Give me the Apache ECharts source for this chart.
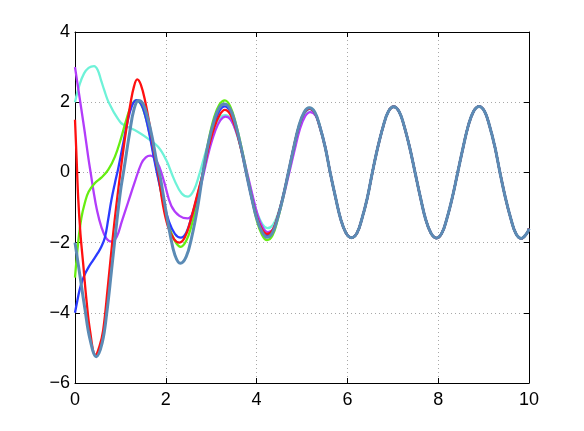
<!DOCTYPE html>
<html>
<head>
<meta charset="utf-8">
<script src="https://cdn.jsdelivr.net/npm/echarts@6/dist/echarts.min.js"></script>
<style>
  html, body { margin: 0; padding: 0; background: #fff; }
  #chart { width: 584px; height: 431px; }
</style>
</head>
<body>
<div id="chart"></div>
<script>
// values, [t, y]
const cyan = [[0, 2.0], [0.1, 2.5], [0.2, 2.82], [0.3, 2.98], [0.42, 3.03], [0.5, 2.92], [0.58, 2.6], [0.65, 2.32],
  [0.72, 2.06], [0.8, 1.85], [0.87, 1.68], [0.95, 1.52], [1.02, 1.4], [1.16, 1.3], [1.38, 1.16], [1.6, 0.97],
  [1.83, 0.73], [2.01, 0.35], [2.19, -0.22], [2.35, -0.6], [2.49, -0.69], [2.62, -0.5], [2.74, -0.05], [2.86, 0.5],
  [2.98, 1.0], [3.1, 1.38], [3.2, 1.57], [3.31, 1.63], [3.43, 1.52], [3.55, 1.15], [3.67, 0.6], [3.78, 0],
  [3.9, -0.65], [4.01, -1.15], [4.13, -1.48], [4.24, -1.59], [4.36, -1.5], [4.47, -1.18], [4.59, -0.62], [4.71, 0],
  [4.83, 0.68], [4.94, 1.26], [5.06, 1.66], [5.17, 1.8], [5.29, 1.68], [5.4, 1.3], [5.52, 0.7]];

const purple = [[0, 3.0], [0.07, 2.4], [0.14, 1.8], [0.22, 1.1], [0.29, 0.45], [0.35, -0.05], [0.41, -0.55],
  [0.48, -1.05], [0.58, -1.55], [0.69, -1.88], [0.8, -1.97], [0.92, -1.83], [1.03, -1.4], [1.17, -0.85],
  [1.31, -0.3], [1.46, 0.25], [1.56, 0.43], [1.66, 0.48], [1.76, 0.4], [1.86, 0.15], [1.97, -0.3], [2.12, -0.95],
  [2.3, -1.24], [2.48, -1.31], [2.6, -1.15], [2.72, -0.65], [2.84, 0], [2.96, 0.65], [3.08, 1.15], [3.2, 1.48],
  [3.32, 1.59], [3.44, 1.48], [3.56, 1.12], [3.68, 0.6], [3.79, 0], [3.91, -0.65], [4.02, -1.2], [4.14, -1.58],
  [4.25, -1.7], [4.37, -1.6], [4.48, -1.22], [4.6, -0.65], [4.72, 0], [4.84, 0.65], [4.95, 1.22], [5.07, 1.6],
  [5.18, 1.72], [5.3, 1.62], [5.41, 1.25], [5.52, 0.68]];

const green = [[0, -3.0], [0.07, -2.0], [0.14, -1.3], [0.22, -0.85], [0.3, -0.55], [0.44, -0.3], [0.58, -0.15],
  [0.73, 0.07], [0.88, 0.45], [1.02, 1.0], [1.13, 1.5], [1.24, 1.9], [1.35, 2.05], [1.45, 1.95], [1.55, 1.6],
  [1.65, 1.05], [1.75, 0.4], [1.85, -0.25], [1.95, -0.9], [2.05, -1.45], [2.2, -1.95], [2.33, -2.12], [2.45, -1.95],
  [2.57, -1.5], [2.7, -0.8], [2.82, 0], [2.94, 0.9], [3.06, 1.55], [3.18, 1.93], [3.3, 2.05], [3.42, 1.88],
  [3.54, 1.4], [3.66, 0.75], [3.78, 0], [3.9, -0.78], [4.0, -1.35], [4.12, -1.78], [4.23, -1.93], [4.35, -1.8],
  [4.46, -1.36], [4.58, -0.74], [4.7, 0], [4.82, 0.72], [4.93, 1.32], [5.05, 1.72], [5.16, 1.84], [5.28, 1.72],
  [5.39, 1.32], [5.51, 0.72]];

const blue = [[0, -4.0], [0.06, -3.6], [0.12, -3.25], [0.2, -2.95], [0.3, -2.7], [0.4, -2.5], [0.5, -2.3],
  [0.58, -2.12], [0.66, -1.85], [0.73, -1.35], [0.8, -0.8], [0.88, -0.3], [0.95, 0.1], [1.05, 0.75], [1.15, 1.4],
  [1.25, 1.88], [1.35, 2.06], [1.46, 1.94], [1.56, 1.55], [1.66, 0.95], [1.74, 0.4], [1.82, -0.1], [1.95, -0.85],
  [2.07, -1.4], [2.2, -1.75], [2.33, -1.86], [2.45, -1.72], [2.57, -1.25], [2.7, -0.65], [2.82, 0], [2.94, 0.75],
  [3.06, 1.35], [3.18, 1.75], [3.3, 1.88], [3.42, 1.73], [3.54, 1.3], [3.66, 0.68], [3.77, 0], [3.89, -0.72],
  [4.0, -1.28], [4.12, -1.66], [4.23, -1.79], [4.35, -1.67], [4.46, -1.28], [4.58, -0.7], [4.7, 0], [4.82, 0.72],
  [4.93, 1.3], [5.05, 1.7], [5.16, 1.82], [5.28, 1.7], [5.39, 1.3], [5.51, 0.72]];

const red = [[0, 1.5], [0.035, 0.4], [0.07, -0.72], [0.12, -1.75], [0.18, -2.6], [0.25, -3.6], [0.33, -4.5],
  [0.45, -5.2], [0.54, -4.95], [0.62, -4.5], [0.72, -3.3], [0.82, -2.0], [0.91, -0.95], [1.01, 0.1], [1.12, 1.15],
  [1.22, 1.95], [1.3, 2.45], [1.37, 2.65], [1.45, 2.5], [1.55, 2.0], [1.65, 1.3], [1.74, 0.6], [1.83, 0],
  [1.94, -0.95], [2.05, -1.55], [2.18, -1.9], [2.3, -2.0], [2.42, -1.85], [2.55, -1.35], [2.68, -0.7], [2.82, 0],
  [2.94, 0.7], [3.06, 1.25], [3.18, 1.62], [3.3, 1.78], [3.42, 1.65], [3.54, 1.25], [3.66, 0.65], [3.77, 0],
  [3.89, -0.7], [4.0, -1.25], [4.12, -1.62], [4.23, -1.75], [4.35, -1.65], [4.46, -1.27], [4.58, -0.7], [4.7, 0],
  [4.82, 0.72], [4.93, 1.3], [5.05, 1.7], [5.16, 1.82], [5.28, 1.7], [5.39, 1.3], [5.51, 0.72]];

const steel = [[0, -2.0], [0.11, -2.95], [0.22, -3.9], [0.33, -4.75], [0.47, -5.25], [0.6, -4.85], [0.7, -4.0],
  [0.8, -2.85], [0.9, -1.65], [1.0, -0.55], [1.08, 0.1], [1.2, 1.1], [1.3, 1.8], [1.4, 2.05], [1.5, 1.95],
  [1.6, 1.55], [1.7, 1.0], [1.8, 0.3], [1.88, -0.15], [1.99, -1.0], [2.1, -1.8], [2.2, -2.35], [2.32, -2.59],
  [2.45, -2.4], [2.57, -1.85], [2.7, -1.0], [2.82, 0], [2.94, 0.85], [3.06, 1.45], [3.18, 1.85], [3.3, 1.95],
  [3.42, 1.8], [3.54, 1.35], [3.66, 0.7], [3.77, 0], [3.89, -0.72], [4.0, -1.3], [4.12, -1.7], [4.23, -1.85],
  [4.35, -1.72], [4.46, -1.32], [4.58, -0.72], [4.7, 0], [4.82, 0.72], [4.93, 1.32], [5.05, 1.72], [5.16, 1.84],
  [5.28, 1.72], [5.39, 1.32], [5.51, 0.72]];

// after t ~ 5.6 every curve sits on the same wave
const tail = [[5.62, 0], [5.74, -0.72], [5.85, -1.32], [5.97, -1.73], [6.09, -1.86], [6.21, -1.73], [6.32, -1.32],
  [6.44, -0.72], [6.55, 0], [6.67, 0.72], [6.79, 1.32], [6.9, 1.73], [7.02, 1.87], [7.14, 1.73], [7.25, 1.32],
  [7.37, 0.72], [7.49, 0], [7.61, -0.72], [7.72, -1.32], [7.84, -1.73], [7.96, -1.87], [8.08, -1.73], [8.19, -1.32],
  [8.31, -0.72], [8.43, 0], [8.55, 0.72], [8.66, 1.32], [8.78, 1.74], [8.9, 1.88], [9.02, 1.74], [9.13, 1.33],
  [9.25, 0.72], [9.36, 0], [9.48, -0.72], [9.6, -1.32], [9.71, -1.74], [9.83, -1.88], [9.95, -1.74], [10.0, -1.6]];

const xTicks = { min: 0, max: 10, interval: 2 };
const yTicks = { min: -6, max: 4, interval: 2 };

const curves = [
  { data: cyan, color: '#6ef2d8', width: 2.3 },
  { data: purple, color: '#b23cfa', width: 2.3 },
  { data: green, color: '#66ee11', width: 2.3 },
  { data: blue, color: '#2b3bff', width: 2.3 },
  { data: red, color: '#ff1010', width: 2.3 },
  { data: steel, color: '#5b8bb5', width: 3 },
];

const chart = echarts.init(document.getElementById('chart'));

const minus = (v) => String(v).replace('-', '\u2212');
const font = { fontFamily: 'Liberation Sans', fontSize: 18, color: '#000' };
const frame = { show: true, onZero: false, lineStyle: { color: '#000', width: 1 } };
const ticks = { show: true, inside: true, length: 5, lineStyle: { color: '#000' } };
const dotted = { show: true, lineStyle: { type: [1, 3], color: '#a8a8a8', width: 1 } };

chart.setOption({
  animation: false,
  backgroundColor: '#fff',
  grid: { left: 75, right: 55, top: 32, bottom: 48 },
  xAxis: [
    { type: 'value', ...xTicks, axisLine: frame, axisTick: ticks, splitLine: dotted,
      axisLabel: { ...font, margin: 8, formatter: minus } },
    { type: 'value', position: 'top', ...xTicks, axisLine: frame, axisTick: ticks,
      splitLine: { show: false }, axisLabel: { show: false } },
  ],
  yAxis: [
    { type: 'value', ...yTicks, axisLine: frame, axisTick: ticks, splitLine: dotted,
      axisLabel: { ...font, margin: 5, formatter: minus } },
    { type: 'value', position: 'right', ...yTicks, axisLine: frame, axisTick: ticks,
      splitLine: { show: false }, axisLabel: { show: false } },
  ],
  series: curves.map((c) => ({
    type: 'line',
    xAxisIndex: 0,
    yAxisIndex: 0,
    data: c.data.concat(tail),
    smooth: 0.4,
    showSymbol: false,
    lineStyle: { color: c.color, width: c.width },
    itemStyle: { color: c.color },
  })),
});
</script>
</body>
</html>
